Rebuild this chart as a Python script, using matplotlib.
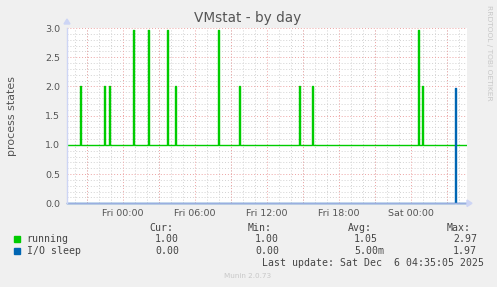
import numpy as np
import matplotlib
matplotlib.use("Agg")
import matplotlib.pyplot as plt
from matplotlib.ticker import MultipleLocator

# hours relative to Fri 00:00
x_start, x_end = -4.667, 28.667
tick_hours = [0, 6, 12, 18, 24]
tick_labels = ["Fri 00:00", "Fri 06:00", "Fri 12:00", "Fri 18:00", "Sat 00:00"]

running_base = 1.0
running_spike_hours = [-3.58, -1.56, -1.14, 0.86, 2.11, 3.69, 4.36, 7.94, 9.69,
                       14.69, 15.83, 24.61, 24.94]
running_spike_vals = [2.0, 2.0, 2.0, 2.97, 2.97, 2.97, 2.0, 2.97, 2.0,
                      2.0, 2.0, 2.97, 2.0]

io_base = 0.0
io_spike_hours = [27.69]
io_spike_vals = [1.97]

legend_names = ["running", "I/O sleep"]
legend_colors = ["#00cc00", "#0066b3"]
legend_cur = ["1.00", "0.00"]
legend_min = ["1.00", "0.00"]
legend_avg = ["1.05", "5.00m"]
legend_max = ["2.97", "1.97"]


def pulses(base, hours, vals, w=1 / 12):
    xs, ys = [x_start], [base]
    for h, v in zip(hours, vals):
        xs += [h - w / 2, h - w / 2, h + w / 2, h + w / 2]
        ys += [base, v, v, base]
    xs.append(x_end)
    ys.append(base)
    return xs, ys


W, H = 497, 287
fig = plt.figure(figsize=(W / 100, H / 100), dpi=100, facecolor="#f0f0f0")

ax = fig.add_axes([67 / W, (H - 203.3) / H, 400 / W, 175.3 / H])
ax.set_facecolor("white")
ax.set_xlim(x_start, x_end)
ax.set_ylim(0, 3.0)

# grid: minor 1h / 0.1, major 3h / 0.5
ax.xaxis.set_minor_locator(MultipleLocator(1))
ax.yaxis.set_minor_locator(MultipleLocator(0.1))
ax.grid(which="minor", color="#d2d2d2", linestyle=(0, (1, 2)), linewidth=0.7)
ax.yaxis.grid(True, which="major", color="#eda3a3", linestyle=(0, (1, 2)), linewidth=0.7)
for h in np.arange(-3, 28, 3):
    ax.axvline(h, color="#eda3a3", linestyle=(0, (1, 2)), linewidth=0.7, zorder=1)
ax.set_axisbelow(True)

xs, ys = pulses(running_base, running_spike_hours, running_spike_vals)
ax.plot(xs, ys, color=legend_colors[0], linewidth=1.0, zorder=3)
xs, ys = pulses(io_base, io_spike_hours, io_spike_vals)
ax.plot(xs, ys, color=legend_colors[1], linewidth=1.0, zorder=4, clip_on=False)

for s in ax.spines.values():
    s.set_visible(False)
ax.axhline(0, color="#9aaee0", linewidth=1.0, zorder=5, clip_on=False)
ax.axvline(x_start, color="#cdd5f5", linewidth=1.0, zorder=5, clip_on=False)

ax.set_xticks(tick_hours)
ax.set_xticklabels(tick_labels)
ax.set_yticks([0, 0.5, 1.0, 1.5, 2.0, 2.5, 3.0])
ax.set_yticklabels(["0.0", "0.5", "1.0", "1.5", "2.0", "2.5", "3.0"])
ax.tick_params(axis="both", which="both", length=0, labelsize=6.8, labelcolor="#555555")
ax.tick_params(axis="x", pad=4)
ax.tick_params(axis="y", pad=5)

ax.set_ylabel("process states", fontsize=7.9, color="#555555", labelpad=20)

# axis arrows
fig.patches.append(plt.Polygon([[64 / W, 1 - 24 / H], [70 / W, 1 - 24 / H], [67 / W, 1 - 19 / H]],
                               closed=True, transform=fig.transFigure, color="#cdd5f5"))
fig.patches.append(plt.Polygon([[467 / W, 1 - 200 / H], [467 / W, 1 - 206.5 / H], [472 / W, 1 - 203.3 / H]],
                               closed=True, transform=fig.transFigure, color="#cdd5f5"))

fig.text(248 / W, 1 - 18 / H, "VMstat - by day", ha="center", va="center",
         fontsize=9.8, color="#555555")
fig.text(489 / W, 1 - 5 / H, "RRDTOOL / TOBI OETIKER", rotation=270, ha="center", va="top",
         fontsize=5.4, color="#c8c8c8")

mono = dict(family="DejaVu Sans Mono", fontsize=7.1, color="#444444", va="center")
fig.text(149 / W, 1 - 227.7 / H, "Cur:", **mono)
fig.text(248 / W, 1 - 227.7 / H, "Min:", **mono)
fig.text(348 / W, 1 - 227.7 / H, "Avg:", **mono)
fig.text(447 / W, 1 - 227.7 / H, "Max:", **mono)
for i, name in enumerate(legend_names):
    y = 1 - (239.3 + 11.7 * i) / H
    fig.patches.append(plt.Rectangle((14 / W, y - 2.7 / H), 6 / W, 6 / H,
                                     transform=fig.transFigure, color=legend_colors[i]))
    fig.text(26.7 / W, y, name, **mono)
    fig.text(155 / W, y, legend_cur[i], **mono)
    fig.text(255 / W, y, legend_min[i], **mono)
    fig.text(354 / W, y, legend_avg[i], **mono)
    fig.text(453 / W, y, legend_max[i], **mono)

fig.text(261.7 / W, 1 - 263.3 / H, "Last update: Sat Dec  6 04:35:05 2025", **mono)
fig.text(248 / W, 1 - 276 / H, "Munin 2.0.73", ha="center", va="center",
         fontsize=5.2, color="#c8c8c8")

fig.savefig("out.png", dpi=100, facecolor=fig.get_facecolor())
